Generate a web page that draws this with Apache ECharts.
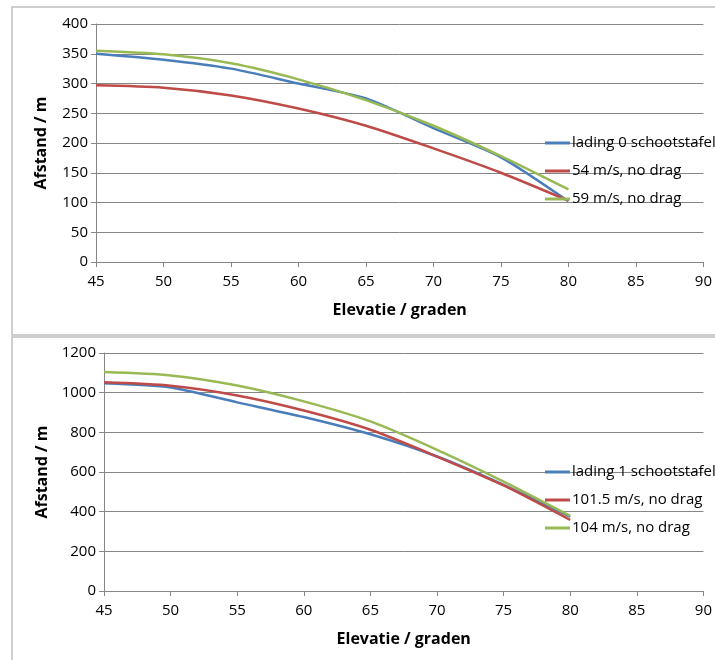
<!DOCTYPE html>
<html>
<head>
<meta charset="utf-8">
<script src="https://cdn.jsdelivr.net/npm/echarts@6/dist/echarts.min.js"></script>
<style>
html,body{margin:0;padding:0;background:#fff;}
#chart{width:715px;height:660px;}
</style>
</head>
<body>
<div id="chart"></div>
<script>
// Elevation angles (degrees)
var elevations = [45, 50, 55, 60, 65, 70, 75, 80];

// Top panel: lading 0
var topNames = ['lading 0 schootstafel', '54 m/s, no drag', '59 m/s, no drag'];
var topLading0 = [350, 340, 325, 300, 275, 225, 176, 102];
var top54 = [297, 293, 280, 258, 229, 191, 150, 103];
var top59 = [355, 349, 334, 307, 272, 229, 178, 122];

// Bottom panel: lading 1
var botNames = ['lading 1 schootstafel', '101.5 m/s, no drag', '104 m/s, no drag'];
var botLading1 = [1047, 1026, 951, 877, 790, 678, 535, 374];
var bot1015 = [1052, 1035, 986, 910, 813, 678, 532, 358];
var bot104 = [1104, 1087, 1036, 956, 855, 712, 552, 379];

var xTicks = {min: 45, max: 90, interval: 5};
var topY = {min: 0, max: 400, interval: 50};
var botY = {min: 0, max: 1200, interval: 200};

var colors = ['#4A7EBB', '#BE4B48', '#98B954'];
var FONT = '"Open Sans", "Noto Sans", sans-serif';

function pairs(vals) {
  return elevations.map(function (e, i) { return [e, vals[i]]; });
}

function xAxis(gridIndex) {
  return {
    type: 'value', gridIndex: gridIndex,
    min: xTicks.min, max: xTicks.max, interval: xTicks.interval,
    name: 'Elevatie / graden', nameLocation: 'middle', nameGap: 40,
    nameTextStyle: {fontFamily: FONT, fontSize: 16, fontWeight: 'bold', color: '#000'},
    axisLine: {show: true, lineStyle: {color: '#868686', width: 1}},
    axisTick: {show: true, inside: false, length: 5, lineStyle: {color: '#868686'}},
    axisLabel: {fontFamily: FONT, fontSize: 15, color: '#000', margin: 12,
      formatter: function (v) { return String(v); }},
    splitLine: {show: false}
  };
}
function yAxis(gridIndex, cfg) {
  return {
    type: 'value', gridIndex: gridIndex,
    min: cfg.min, max: cfg.max, interval: cfg.interval,
    name: 'Afstand / m', nameLocation: 'middle', nameGap: gridIndex === 0 ? 47 : 53,
    nameTextStyle: {fontFamily: FONT, fontSize: 16, fontWeight: 'bold', color: '#000'},
    axisLine: {show: true, lineStyle: {color: '#868686', width: 1}},
    axisTick: {show: true, inside: false, length: 5, lineStyle: {color: '#868686'}},
    axisLabel: {fontFamily: FONT, fontSize: 15, color: '#000', margin: 8,
      formatter: function (v) { return String(v); }},
    splitLine: {show: true, lineStyle: {color: '#868686', width: 1}}
  };
}
function line(name, vals, idx, colorIdx) {
  return {
    name: name, type: 'line', xAxisIndex: idx, yAxisIndex: idx,
    data: pairs(vals), smooth: 0.25, showSymbol: false, symbol: 'none',
    lineStyle: {color: colors[colorIdx], width: 2.5},
    itemStyle: {color: colors[colorIdx]},
    emphasis: {disabled: true}, animation: false
  };
}
function legend(names, top) {
  return {
    data: names, orient: 'vertical', left: 545, top: top, padding: 0,
    icon: 'rect', itemWidth: 25, itemHeight: 3, itemGap: 12,
    textStyle: {fontFamily: FONT, fontSize: 15, color: '#000', lineHeight: 16, padding: [0, 0, 0, -3]},
    selectedMode: false
  };
}

var chart = echarts.init(document.getElementById('chart'), null, {renderer: 'canvas'});
chart.setOption({
  backgroundColor: '#fff',
  animation: false,
  graphic: [
    {type: 'rect', shape: {x: 12, y: 7, width: 720, height: 328}, style: {fill: 'none', stroke: '#bfbfbf', lineWidth: 1.5}, silent: true, z: -10},
    {type: 'rect', shape: {x: 12, y: 337, width: 720, height: 340}, style: {fill: 'none', stroke: '#bfbfbf', lineWidth: 1.5}, silent: true, z: -10}
  ],
  grid: [
    {left: 96, right: 10, top: 24, height: 238, containLabel: false},
    {left: 104, right: 9, top: 353, height: 238, containLabel: false}
  ],
  xAxis: [xAxis(0), xAxis(1)],
  yAxis: [yAxis(0, topY), yAxis(1, botY)],
  legend: [legend(topNames, 135), legend(botNames, 464)],
  series: [
    line(topNames[0], topLading0, 0, 0),
    line(topNames[1], top54, 0, 1),
    line(topNames[2], top59, 0, 2),
    line(botNames[0], botLading1, 1, 0),
    line(botNames[1], bot1015, 1, 1),
    line(botNames[2], bot104, 1, 2)
  ]
});
</script>
</body>
</html>
